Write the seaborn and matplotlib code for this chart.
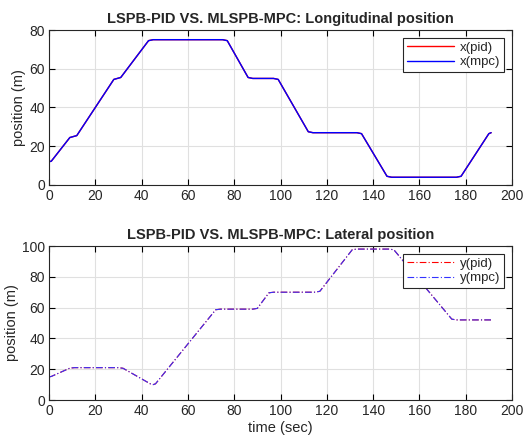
import numpy as np
import pandas as pd
import matplotlib
matplotlib.use("Agg")
import matplotlib.pyplot as plt
import seaborn as sns

# Waypoints (time in sec, position in m)
x_time = [0, 1, 9, 12, 28, 31, 43, 45, 75, 77, 86, 88, 97, 99, 112, 114, 133, 135, 146, 148, 176, 178, 190, 191]
x_pid = [12, 12.3, 24.5, 25.5, 54.5, 55.5, 74.5, 75, 75, 74.5, 55.5, 55, 55, 54.5, 27.5, 27, 27, 26.5, 4.5, 4, 4, 4.5, 26.5, 27]
x_mpc = [12, 12.3, 24.5, 25.5, 54.5, 55.5, 74.5, 75, 75, 74.5, 55.5, 55, 55, 54.5, 27.5, 27, 27, 26.5, 4.5, 4, 4, 4.5, 26.5, 27]

y_time = [0, 1, 9, 11, 30, 32, 44, 45, 46, 72, 74, 88, 90, 95, 97, 115, 117, 131, 133, 147, 149, 174, 176, 191]
y_pid = [15, 15.3, 20.7, 21, 21, 20.6, 10.3, 10, 10.5, 58.6, 59, 59, 59.5, 69.6, 70, 70, 70.6, 97.6, 98, 98, 97.5, 52.5, 52, 52]
y_mpc = [15, 15.3, 20.7, 21, 21, 20.6, 10.3, 10, 10.5, 58.6, 59, 59, 59.5, 69.6, 70, 70, 70.6, 97.6, 98, 98, 97.5, 52.5, 52, 52]

sns.set_theme(style="whitegrid")
plt.rcParams['font.family'] = ['Liberation Sans', 'DejaVu Sans']
plt.rcParams['axes.edgecolor'] = 'black'
plt.rcParams['axes.linewidth'] = 0.8
plt.rcParams['grid.color'] = '#e0e0e0'
plt.rcParams['grid.linewidth'] = 0.8

dfx = pd.DataFrame({"t": x_time, "pid": x_pid, "mpc": x_mpc})
dfy = pd.DataFrame({"t": y_time, "pid": y_pid, "mpc": y_mpc})

fig = plt.figure(figsize=(5.28, 4.40), dpi=100)
ax1 = fig.add_axes([49/528, 1-185/440, 463/528, 155/440])
ax2 = fig.add_axes([49/528, 1-400/440, 463/528, 154/440])

sns.lineplot(data=dfx, x="t", y="pid", ax=ax1, color="#ff0000", lw=1.0, label="x(pid)", sort=False)
sns.lineplot(data=dfx, x="t", y="mpc", ax=ax1, color="#0000ff", lw=1.0, label="x(mpc)", sort=False)
sns.lineplot(data=dfy, x="t", y="pid", ax=ax2, color="#ff0000", lw=0.8, label="y(pid)", sort=False)
sns.lineplot(data=dfy, x="t", y="mpc", ax=ax2, color="#3333ff", lw=0.8, label="y(mpc)", sort=False)
for l in ax2.get_lines():
    l.set_linestyle((0, (6, 2, 1, 2)))

for ax, ymax, ystep in [(ax1, 80, 20), (ax2, 100, 20)]:
    ax.set_xlim(0, 200)
    ax.set_ylim(0, ymax)
    ax.set_xticks(np.arange(0, 201, 20))
    ax.set_yticks(np.arange(0, ymax + 1, ystep))
    ax.tick_params(direction='in', length=4, width=0.8, colors='black', labelsize=10,
                   top=True, right=True, bottom=True, left=True, pad=3)
    for lab in ax.get_xticklabels() + ax.get_yticklabels():
        lab.set_color('#262626')
    ax.set_ylabel("position (m)", fontsize=10.5, color='#262626', labelpad=2)
    ax.set_xlabel("")
    for s in ax.spines.values():
        s.set_color('#262626')
        s.set_visible(True)
    leg = ax.legend(loc='upper right', fontsize=9.5, frameon=True, fancybox=False,
                    edgecolor='#262626', framealpha=1, handlelength=3.6, borderpad=0.3,
                    labelspacing=0.15, handletextpad=0.4, borderaxespad=0.6)
    leg.get_frame().set_linewidth(0.8)

ax1.set_title("LSPB-PID VS. MLSPB-MPC: Longitudinal position", fontsize=10.5, fontweight='bold', pad=5)
ax2.set_title("LSPB-PID VS. MLSPB-MPC: Lateral position", fontsize=10.5, fontweight='bold', pad=5)
ax2.set_xlabel("time (sec)", fontsize=10.5, color='#262626', labelpad=2)

fig.savefig("out.png", dpi=100, facecolor='white')
